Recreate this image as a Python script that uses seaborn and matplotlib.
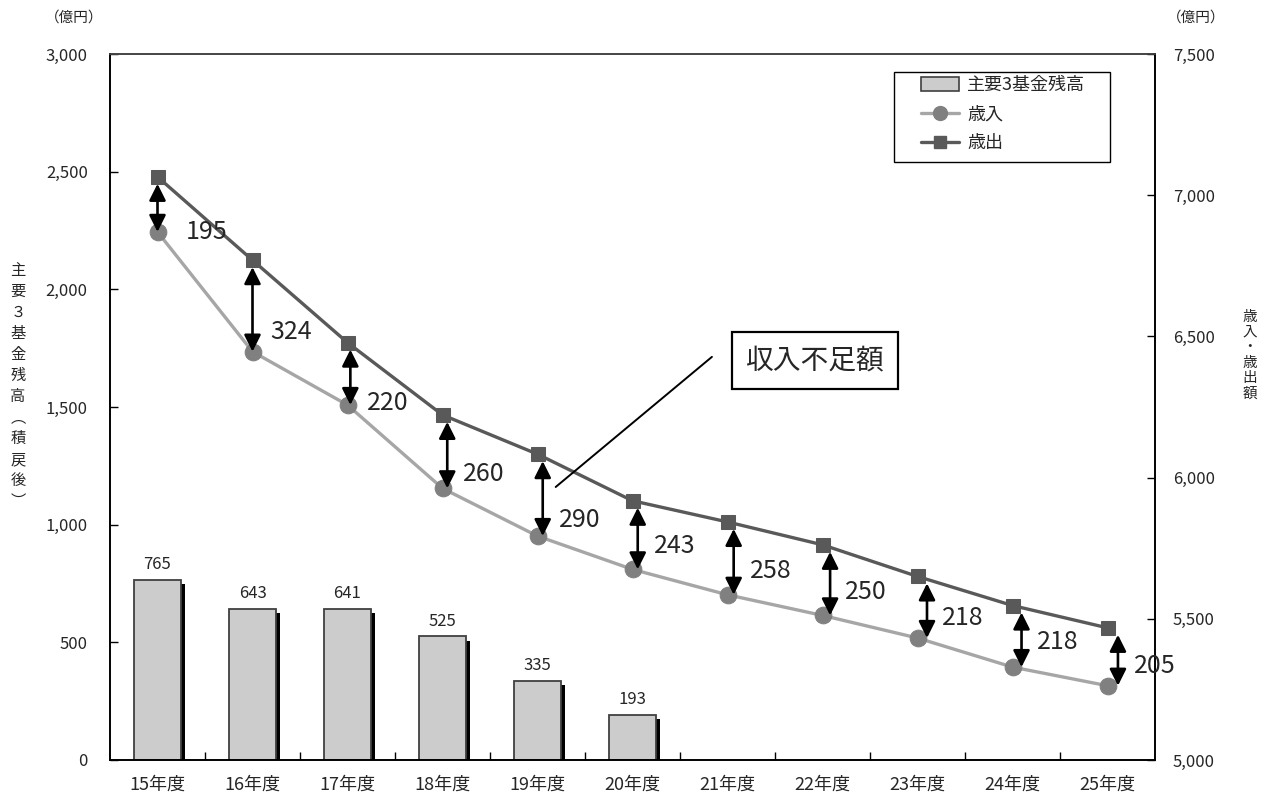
import numpy as np
import pandas as pd
import matplotlib
matplotlib.use("Agg")
import matplotlib.pyplot as plt
import matplotlib.patheffects as pe
from matplotlib.lines import Line2D
from matplotlib.patches import Patch, Rectangle
import seaborn as sns

# ---- data ----
years = ["15年度", "16年度", "17年度", "18年度", "19年度", "20年度",
         "21年度", "22年度", "23年度", "24年度", "25年度"]
fund_years = ["15年度", "16年度", "17年度", "18年度", "19年度", "20年度"]
fund_balance = [765, 643, 641, 525, 335, 193]
revenue = [6870, 6446, 6257, 5962, 5793, 5675, 5585, 5512, 5432, 5329, 5263]
expenditure = [7065, 6770, 6478, 6222, 6083, 5918, 5843, 5762, 5650, 5547, 5468]
shortfall = [195, 324, 220, 260, 290, 243, 258, 250, 218, 218, 205]
left_ticks = [0, 500, 1000, 1500, 2000, 2500, 3000]
right_ticks = [5000, 5500, 6000, 6500, 7000, 7500]

# ---- style helpers (placement of the hand-drawn arrows / labels) ----
arrow_dx = [0, 0, 0.03, 0.05, 0.055, 0.055, 0.065, 0.08, 0.1, 0.095, 0.11]
label_frac = [0.0, 0.22, 0.03, 0.2, 0.2, 0.34, 0.33, 0.33, 0.33, 0.4, 0.34]
label_off = [20, 13, 12, 11.5, 11.5, 12, 11.5, 11, 10.5, 11, 11.5]

sns.set_theme(style="white")
plt.rcParams["font.family"] = ["Noto Sans CJK JP", "DejaVu Sans"]

W, H = 1272, 802
fig = plt.figure(figsize=(W / 100, H / 100), dpi=100)
L, R, T, B = 110, 1155, 54, 760
ax = fig.add_axes([L / W, 1 - B / H, (R - L) / W, (B - T) / H])

# bars (left axis)
df_bar = pd.DataFrame({"year": fund_years, "balance": fund_balance})
sns.barplot(data=df_bar, x="year", y="balance", order=years, ax=ax,
            color="#cccccc", saturation=1, width=0.5,
            edgecolor="#404040", linewidth=1.3)
for p in ax.patches:
    p.set_path_effects([pe.SimplePatchShadow(offset=(3, -3), shadow_rgbFace="black", alpha=1.0),
                        pe.Normal()])
ax.bar_label(ax.containers[0], labels=[str(v) for v in fund_balance],
             padding=5, fontsize=12)

ax.set_xlim(-0.5, 10.5)
ax.set_ylim(0, 3000)
ax.set_yticks(left_ticks)
ax.set_yticklabels([f"{v:,}" for v in left_ticks])
ax.set_xlabel("")
ax.set_ylabel("")
ax.set_xticks(range(len(years)))
ax.set_xticklabels(years)
ax.set_xticks(np.arange(0.5, 10.5, 1.0), minor=True)
ax.tick_params(axis="x", which="major", length=0, pad=11, labelsize=13)
ax.tick_params(axis="x", which="minor", bottom=True, direction="in", length=6, width=1, color="black")
ax.tick_params(axis="y", left=True, direction="in", length=6, width=1, color="black",
               pad=16, labelsize=12)
for s in ax.spines.values():
    s.set_color("black")
    s.set_linewidth(1.2)
ax.spines["top"].set_color("#444444")

# lines (right axis)
ax2 = ax.twinx()
xs = np.arange(len(years))
sns.lineplot(x=xs, y=revenue, ax=ax2, color="#a6a6a6", linewidth=2.4,
             marker="o", markersize=12, markerfacecolor="#808080",
             markeredgecolor="#808080", zorder=3)
sns.lineplot(x=xs, y=expenditure, ax=ax2, color="#595959", linewidth=2.4,
             marker="s", markersize=10, markerfacecolor="#595959",
             markeredgecolor="#595959", zorder=4)
ax2.set_ylim(5000, 7500)
ax2.set_xlim(-0.5, 10.5)
ax2.set_yticks(right_ticks)
ax2.set_yticklabels([f"{v:,}" for v in right_ticks])
ax2.set_ylabel("")
ax2.tick_params(axis="y", right=True, direction="in", length=6, width=1, color="black",
                pad=13, labelsize=12)
for s in ax2.spines.values():
    s.set_color("black")
    s.set_linewidth(1.2)
ax2.spines["top"].set_color("#444444")

# gap arrows and labels
for i in range(len(years)):
    dx = arrow_dx[i]
    ax2.annotate("", xy=(i + dx, expenditure[i]), xytext=(i + dx, revenue[i]),
                 arrowprops=dict(arrowstyle="<|-|>,head_length=0.5,head_width=0.25",
                                 color="black", lw=1.9, mutation_scale=20,
                                 shrinkA=0, shrinkB=5), zorder=6)
    ly = revenue[i] + label_frac[i] * (expenditure[i] - revenue[i])
    ax2.annotate(str(shortfall[i]), xy=(i + dx, ly), xytext=(label_off[i], 0),
                 textcoords="offset points", ha="left", va="center",
                 fontsize=18, zorder=6)

# callout
ax2.plot([0.4265, 0.576], [0.3867, 0.571], transform=ax2.transAxes,
         color="black", lw=1.4, zorder=5)
ax2.text(0.6745, 0.566, "収入不足額", transform=ax2.transAxes, fontsize=20,
         ha="center", va="center", zorder=7,
         bbox=dict(boxstyle="square,pad=0.5", fc="white", ec="black", lw=1.6))

# legend (frame drawn separately to match the box proportions)
def ax_frac(px, py):
    return (px - L) / (R - L), (B - py) / (B - T)

x0, y0 = ax_frac(894, 162)
x1, y1 = ax_frac(1110, 72)
ax2.add_patch(Rectangle((x0, y0), x1 - x0, y1 - y0, transform=ax2.transAxes,
                        fc="white", ec="black", lw=1.0, zorder=9))
handles = [Patch(facecolor="#cccccc", edgecolor="#404040", linewidth=1.2),
           Line2D([], [], color="#a6a6a6", lw=2.4, marker="o", markersize=10,
                  markerfacecolor="#808080", markeredgecolor="#808080"),
           Line2D([], [], color="#595959", lw=2.4, marker="s", markersize=8,
                  markerfacecolor="#595959", markeredgecolor="#595959")]
leg = ax2.legend(handles, ["主要3基金残高", "歳入", "歳出"],
                 loc="upper left", bbox_to_anchor=ax_frac(921, 76),
                 frameon=False, fontsize=13,
                 borderpad=0, labelspacing=0.62, handlelength=2.1, handletextpad=0.45,
                 borderaxespad=0, handleheight=0.8)
leg.set_zorder(10)

# axis titles and units
fig.text(74 / W, 1 - 18 / H, "（億円）", ha="center", va="center", fontsize=10.5)
fig.text(1196 / W, 1 - 18 / H, "（億円）", ha="center", va="center", fontsize=10.5)
fig.text(18 / W, 1 - 386 / H, "\n".join("主要３基金残高︵積戻後︶"),
         ha="center", va="center", fontsize=11, linespacing=1.31)
fig.text(1250 / W, 1 - 355 / H, "\n".join("歳入・歳出額"),
         ha="center", va="center", fontsize=10.5, linespacing=1.12)

fig.savefig("out.png", dpi=100, facecolor="white")
